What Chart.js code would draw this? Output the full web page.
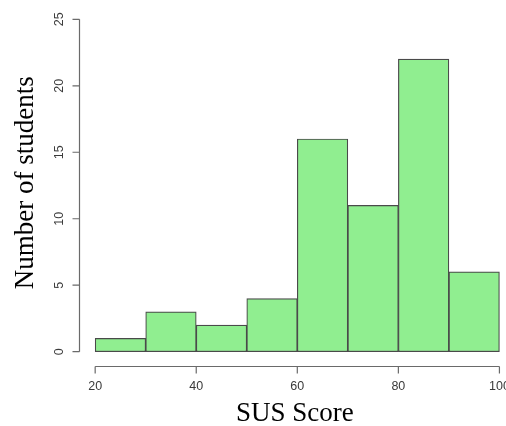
<!DOCTYPE html>
<html>
<head>
<meta charset="utf-8">
<script src="https://cdn.jsdelivr.net/npm/chart.js@4/dist/chart.umd.min.js"></script>
<style>
  html, body { margin: 0; padding: 0; background: #fff; overflow: hidden; }
</style>
</head>
<body>
<canvas id="hist" width="506" height="426"></canvas>
<script>
// histogram bins (left edge, 10 wide) and counts
const binStarts = [20, 30, 40, 50, 60, 70, 80, 90];
const binWidth = 10;
const counts = [1, 3, 2, 4, 16, 11, 22, 6];
const xTicks = [20, 40, 60, 80, 100];
const yTicks = [0, 5, 10, 15, 20, 25];
const xTitle = "SUS Score";
const yTitle = "Number of students";

const points = binStarts.map((b, i) => ({ x: b + binWidth / 2, y: counts[i] }));

// R style detached axes, drawn through the chart's own scales
const rAxes = {
  id: "rAxes",
  afterDraw(chart) {
    const ctx = chart.ctx;
    const xs = chart.scales.x, ys = chart.scales.y;
    const area = chart.chartArea;
    ctx.save();
    ctx.strokeStyle = "#6a6a6a";
    ctx.lineWidth = 1.2;
    ctx.fillStyle = "#3a3a3a";
    ctx.font = "12.5px 'Liberation Sans', Arial, sans-serif";

    // y axis
    const ax = Math.round(area.left) + 0.5;
    ctx.beginPath();
    ctx.moveTo(ax, ys.getPixelForValue(yTicks[0]));
    ctx.lineTo(ax, ys.getPixelForValue(yTicks[yTicks.length - 1]));
    yTicks.forEach(v => {
      const p = ys.getPixelForValue(v);
      ctx.moveTo(ax, p);
      ctx.lineTo(ax - 7, p);
    });
    ctx.stroke();
    ctx.textAlign = "center";
    ctx.textBaseline = "middle";
    yTicks.forEach(v => {
      ctx.save();
      ctx.translate(ax - 20, ys.getPixelForValue(v));
      ctx.rotate(-Math.PI / 2);
      ctx.fillText(String(v), 0, 0);
      ctx.restore();
    });

    // x axis
    const ay = Math.round(area.bottom) + 1.5;
    ctx.beginPath();
    ctx.moveTo(xs.getPixelForValue(xTicks[0]), ay);
    ctx.lineTo(xs.getPixelForValue(xTicks[xTicks.length - 1]), ay);
    xTicks.forEach(v => {
      const p = xs.getPixelForValue(v);
      ctx.moveTo(p, ay);
      ctx.lineTo(p, ay + 7);
    });
    ctx.stroke();
    xTicks.forEach(v => {
      ctx.fillText(String(v), xs.getPixelForValue(v), ay + 20);
    });

    // titles
    ctx.fillStyle = "#000";
    ctx.font = "27px 'Liberation Serif', 'Times New Roman', serif";
    ctx.textBaseline = "alphabetic";
    ctx.fillText(xTitle, xs.getPixelForValue(59.5), 421);
    ctx.save();
    ctx.translate(33, ys.getPixelForValue(12.7));
    ctx.rotate(-Math.PI / 2);
    ctx.fillText(yTitle, 0, 0);
    ctx.restore();
    ctx.restore();
  }
};

new Chart(document.getElementById("hist"), {
  type: "bar",
  data: {
    datasets: [{
      data: points,
      backgroundColor: "#90EE90",
      borderColor: "#4a4a4a",
      borderWidth: 1.2,
      borderSkipped: false,
      barPercentage: 1,
      categoryPercentage: 1
    }]
  },
  options: {
    responsive: false,
    animation: false,
    layout: { padding: { left: 79, right: 0, top: 6, bottom: 61 } },
    plugins: { legend: { display: false }, tooltip: { enabled: false } },
    scales: {
      x: { type: "linear", min: 16.8, max: 101.3, offset: false, display: false },
      y: { type: "linear", min: -1, max: 26, display: false }
    }
  },
  plugins: [rAxes]
});
</script>
</body>
</html>
